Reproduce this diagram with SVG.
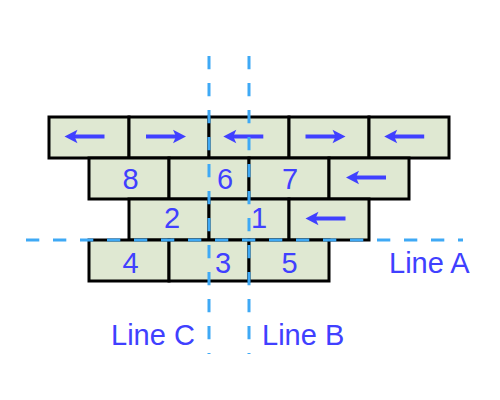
<svg xmlns="http://www.w3.org/2000/svg" xmlns:xlink="http://www.w3.org/1999/xlink" width="500" height="400" viewBox="0 0 500 400">
<style>
.brick{fill:#dfe8d2;stroke:#000;stroke-width:3}
.num{font-family:"Liberation Sans",Arial,sans-serif;font-size:29px;fill:#4040ff;text-anchor:middle}
.lbl{font-family:"Liberation Sans",Arial,sans-serif;font-size:29px;fill:#4040ff}
.dash{stroke:#3fa9f5;stroke-width:3;stroke-dasharray:13.3 13.7;fill:none}
</style>
<defs>
<g id="larrow">
<line x1="-12" y1="0" x2="20" y2="0" stroke="#4040ff" stroke-width="4"/>
<path d="M-20,0 L-7,-6.8 L-10,0 L-7,6.8 Z" fill="#4040ff"/>
</g>
</defs>
<rect width="500" height="400" fill="#fff"/>
<g id="row1">
<g id="b1a"><rect class="brick" x="49" y="117" width="80" height="41"/><use xlink:href="#larrow" transform="translate(84.5,136.5)"/></g>
<g id="b1b"><rect class="brick" x="129" y="117" width="80" height="41"/><use xlink:href="#larrow" transform="translate(166,136.5) scale(-1,1)"/></g>
<g id="b1c"><rect class="brick" x="209" y="117" width="80" height="41"/><use xlink:href="#larrow" transform="translate(243.3,136.5)"/></g>
<g id="b1d"><rect class="brick" x="289" y="117" width="80" height="41"/><use xlink:href="#larrow" transform="translate(325.5,136.5) scale(-1,1)"/></g>
<g id="b1e"><rect class="brick" x="369" y="117" width="80" height="41"/><use xlink:href="#larrow" transform="translate(404.2,136.5)"/></g>
</g>
<g id="row2">
<g id="b8"><rect class="brick" x="89" y="158" width="80" height="41"/><text class="num" x="130.5" y="189">8</text></g>
<g id="b6"><rect class="brick" x="169" y="158" width="80" height="41"/><text class="num" x="225" y="189">6</text></g>
<g id="b7"><rect class="brick" x="249" y="158" width="80" height="41"/><text class="num" x="290" y="189">7</text></g>
<g id="b2e"><rect class="brick" x="329" y="158" width="80" height="41"/><use xlink:href="#larrow" transform="translate(366,177.5)"/></g>
</g>
<g id="row3">
<g id="b2"><rect class="brick" x="129" y="199" width="80" height="41"/><text class="num" x="172" y="227.5">2</text></g>
<g id="b1"><rect class="brick" x="209" y="199" width="80" height="41"/><text class="num" x="259" y="227.5">1</text></g>
<g id="b3e"><rect class="brick" x="289" y="199" width="80" height="41"/><use xlink:href="#larrow" transform="translate(325.5,218.5)"/></g>
</g>
<g id="row4">
<g id="b4"><rect class="brick" x="89" y="240" width="80" height="41"/><text class="num" x="130.5" y="272.5">4</text></g>
<g id="b3"><rect class="brick" x="169" y="240" width="80" height="41"/><text class="num" x="223" y="272.5">3</text></g>
<g id="b5"><rect class="brick" x="249" y="240" width="80" height="41"/><text class="num" x="289.5" y="272.5">5</text></g>
</g>
<g id="connectors">
<line class="dash" x1="26" y1="240" x2="463" y2="240"/>
<line class="dash" x1="209" y1="56" x2="209" y2="354"/>
<line class="dash" x1="249" y1="56" x2="249" y2="354"/>
</g>
<g id="labels">
<text class="lbl" x="389" y="272.5">Line A</text>
<text class="lbl" x="111" y="345">Line C</text>
<text class="lbl" x="262" y="345">Line B</text>
</g>
</svg>
